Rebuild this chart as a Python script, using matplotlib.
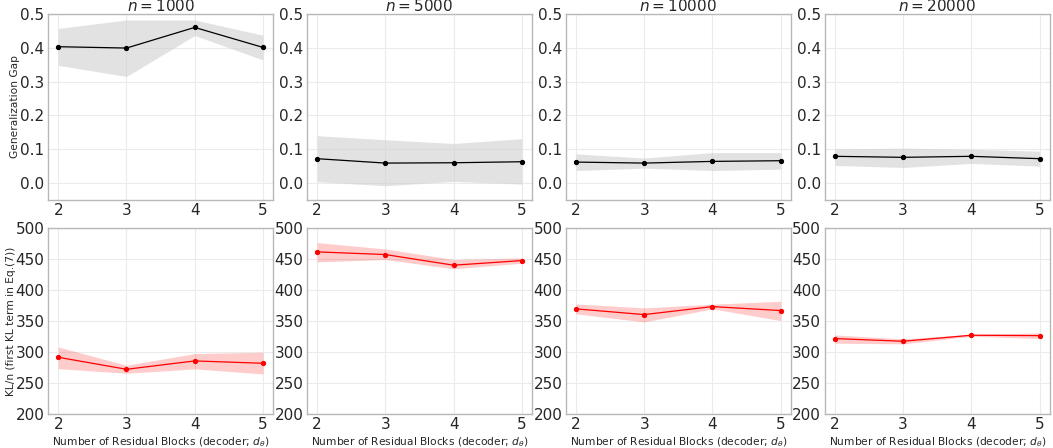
import matplotlib
matplotlib.use("Agg")
import matplotlib.pyplot as plt
import numpy as np

blocks = [2, 3, 4, 5]
ns = ["1000", "5000", "10000", "20000"]

gap_mean = [
    [0.403, 0.399, 0.460, 0.401],
    [0.072, 0.059, 0.060, 0.063],
    [0.062, 0.059, 0.064, 0.066],
    [0.079, 0.076, 0.079, 0.072],
]
gap_low = [
    [0.348, 0.315, 0.436, 0.364],
    [0.004, -0.008, 0.005, -0.003],
    [0.037, 0.044, 0.037, 0.041],
    [0.052, 0.046, 0.058, 0.050],
]
gap_high = [
    [0.457, 0.482, 0.482, 0.437],
    [0.140, 0.128, 0.117, 0.131],
    [0.086, 0.074, 0.090, 0.090],
    [0.101, 0.103, 0.100, 0.094],
]

kl_mean = [
    [291.4, 272.0, 285.5, 281.7],
    [461.3, 457.0, 439.8, 447.3],
    [369.4, 360.2, 373.1, 366.7],
    [321.5, 317.2, 326.9, 326.3],
]
kl_low = [
    [273.0, 265.6, 272.6, 264.5],
    [445.2, 449.0, 434.0, 443.0],
    [361.3, 348.4, 369.4, 350.5],
    [314.0, 313.0, 325.3, 321.5],
]
kl_high = [
    [308.0, 278.5, 297.3, 299.5],
    [476.3, 466.0, 449.0, 451.6],
    [377.4, 371.0, 376.9, 381.7],
    [327.4, 321.0, 328.5, 330.6],
]

fig, axes = plt.subplots(2, 4, figsize=(10.53, 4.48), dpi=100)
fig.subplots_adjust(left=0.0456, right=0.997, top=0.969, bottom=0.076,
                    wspace=0.15, hspace=0.15)

def style(ax):
    ax.set_facecolor("white")
    for s in ax.spines.values():
        s.set_color("#b8b8b8")
        s.set_linewidth(1.0)
    ax.grid(True, color="#ebebeb", linewidth=0.8)
    ax.set_axisbelow(True)
    ax.tick_params(length=0, labelsize=11, colors="#262626", pad=2.5)
    ax.set_xticks(blocks)

for i in range(4):
    ax = axes[0, i]
    style(ax)
    ax.fill_between(blocks, gap_low[i], gap_high[i], color="#d0d0d0", alpha=0.6, linewidth=0)
    ax.plot(blocks, gap_mean[i], color="black", marker="o", markersize=2.8, linewidth=0.9)
    ax.set_ylim(-0.05, 0.5)
    ax.set_xlim(1.85, 5.15)
    ax.set_yticks([0.0, 0.1, 0.2, 0.3, 0.4, 0.5])
    ax.set_title(r"$n = %s$" % ns[i], fontsize=11, pad=1, color="#262626")
    if i == 0:
        ax.set_ylabel("Generalization Gap", fontsize=7.7, color="#262626")
        ax.yaxis.set_label_coords(-0.124, 0.5)

    ax = axes[1, i]
    style(ax)
    ax.fill_between(blocks, kl_low[i], kl_high[i], color="red", alpha=0.2, linewidth=0)
    ax.plot(blocks, kl_mean[i], color="red", marker="o", markersize=2.8, linewidth=0.9)
    ax.set_ylim(200, 500)
    ax.set_xlim(1.85, 5.15)
    ax.set_yticks([200, 250, 300, 350, 400, 450, 500])
    ax.set_xlabel(r"Number of Residual Blocks (decoder; $d_\theta$)", fontsize=7.7, color="#262626", labelpad=2)
    if i == 0:
        ax.set_ylabel("KL/n (first KL term in Eq.(7))", fontsize=7.7, color="#262626")
        ax.yaxis.set_label_coords(-0.144, 0.5)

fig.savefig("out.png", dpi=100)
